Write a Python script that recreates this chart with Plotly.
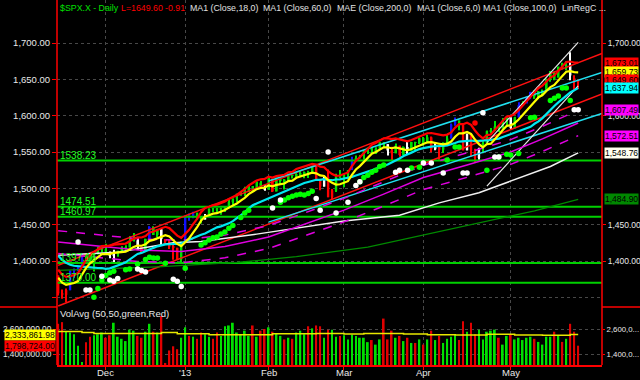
import numpy as np
import pandas as pd
import plotly.graph_objects as go

# ---------------- data ----------------
holidays = ["2012-11-22", "2012-12-25", "2013-01-01", "2013-01-21", "2013-02-18", "2013-03-29"]
first_day, last_day = "2012-11-14", "2013-05-24"

pre_closes = [1457.34, 1433.19, 1433.82, 1413.11, 1408.75, 1412.97, 1411.94, 1412.16,
              1427.59, 1414.20, 1417.26, 1428.39, 1394.53, 1377.51, 1379.85, 1380.03, 1374.53]

opens = [1380.13, 1355.41, 1353.36, 1359.88, 1386.82, 1387.79, 1391.03, 1409.15, 1406.29, 1398.77, 1409.96, 1415.95,
         1416.34, 1409.46, 1407.05, 1409.43, 1413.95, 1418.07, 1418.55, 1427.84, 1428.48, 1419.45, 1413.54, 1430.47,
         1446.79, 1435.81, 1443.67, 1430.15, 1426.66, 1419.83, 1418.10, 1402.43,
         1426.19, 1462.42, 1459.37, 1466.47, 1461.89, 1457.15, 1461.02, 1472.12, 1472.05, 1470.67, 1472.33, 1472.63,
         1480.95, 1485.98, 1492.56, 1494.81, 1494.82, 1502.96, 1500.18, 1507.84, 1501.96,
         1498.11, 1513.17, 1495.71, 1511.29, 1512.12, 1509.39, 1517.93, 1517.01, 1519.43, 1520.33, 1521.38, 1519.79,
         1530.94, 1511.95, 1502.42, 1515.60, 1487.85, 1496.94, 1515.99,
         1514.68, 1518.20, 1525.20, 1539.79, 1541.46, 1544.26, 1551.15, 1556.22, 1552.48, 1554.52, 1563.21, 1560.70,
         1552.10, 1548.34, 1558.71, 1545.90, 1556.89, 1551.69, 1563.75, 1562.86,
         1569.18, 1562.17, 1570.25, 1553.69, 1559.98, 1553.26, 1563.11, 1568.61, 1587.73, 1593.30, 1588.84, 1552.36,
         1574.57, 1552.03, 1541.61, 1555.25, 1562.50, 1578.78, 1578.93, 1585.16, 1582.34, 1593.58,
         1597.55, 1582.77, 1597.60, 1614.40, 1617.55, 1625.95, 1632.69, 1626.69, 1632.10, 1633.75, 1649.13, 1658.07,
         1652.45, 1665.71, 1666.20, 1669.39, 1651.62, 1646.67]
highs = [1380.13, 1360.62, 1362.03, 1386.89, 1389.77, 1391.25, 1409.16, 1409.15, 1409.01, 1410.31, 1419.70, 1418.86,
         1423.73, 1413.14, 1415.56, 1413.95, 1420.34, 1421.64, 1434.27, 1438.59, 1431.36, 1419.45, 1430.67, 1448.00,
         1447.75, 1443.70, 1443.67, 1430.15, 1429.42, 1422.80, 1418.10, 1426.74,
         1462.43, 1465.47, 1467.94, 1466.47, 1461.89, 1464.73, 1472.30, 1472.75, 1472.05, 1473.31, 1473.96, 1485.16,
         1485.98, 1492.56, 1496.13, 1502.27, 1503.26, 1503.23, 1509.35, 1509.94, 1504.19,
         1514.41, 1513.17, 1514.96, 1512.53, 1512.90, 1518.31, 1518.31, 1522.29, 1524.69, 1523.14, 1524.24, 1530.94,
         1530.94, 1511.95, 1515.64, 1525.84, 1498.99, 1520.08, 1525.34,
         1519.99, 1525.27, 1543.47, 1545.25, 1545.78, 1552.48, 1556.27, 1556.77, 1556.39, 1563.32, 1563.62, 1560.70,
         1557.25, 1561.56, 1558.71, 1557.74, 1564.91, 1563.95, 1564.07, 1570.28,
         1570.57, 1573.66, 1571.47, 1562.60, 1559.98, 1563.07, 1573.89, 1589.07, 1597.35, 1593.30, 1588.84, 1575.35,
         1574.57, 1554.38, 1555.89, 1565.55, 1579.58, 1583.00, 1592.64, 1585.78, 1596.65, 1597.57,
         1597.55, 1598.60, 1618.46, 1619.77, 1626.03, 1632.78, 1635.01, 1633.70, 1636.00, 1651.10, 1661.49, 1660.51,
         1667.47, 1672.84, 1674.93, 1687.18, 1655.50, 1649.78]
lows = [1352.50, 1348.05, 1343.35, 1359.88, 1377.04, 1386.39, 1391.03, 1397.68, 1398.03, 1385.43, 1409.04, 1411.63,
        1408.46, 1403.65, 1398.23, 1405.93, 1410.90, 1415.64, 1418.55, 1426.76, 1416.00, 1411.88, 1413.54, 1430.47,
        1435.80, 1432.82, 1422.58, 1424.66, 1416.43, 1401.80, 1401.58, 1398.11,
        1426.19, 1455.53, 1458.99, 1456.62, 1451.64, 1457.15, 1461.02, 1467.58, 1465.69, 1463.76, 1467.60, 1472.63,
        1475.81, 1481.16, 1489.90, 1489.46, 1494.82, 1496.33, 1498.09, 1500.11, 1496.76,
        1498.11, 1495.02, 1495.71, 1504.71, 1498.49, 1509.39, 1513.61, 1515.61, 1515.93, 1514.02, 1514.14, 1519.79,
        1511.41, 1497.29, 1502.42, 1487.85, 1485.01, 1494.88, 1514.46,
        1501.48, 1512.29, 1525.20, 1538.11, 1541.46, 1539.19, 1547.36, 1548.24, 1547.25, 1554.52, 1555.74, 1545.13,
        1538.57, 1548.34, 1543.55, 1545.90, 1546.22, 1551.69, 1551.90, 1561.08,
        1558.47, 1562.17, 1549.80, 1552.52, 1539.50, 1548.63, 1560.92, 1568.61, 1586.17, 1579.97, 1552.28, 1552.36,
        1543.69, 1536.03, 1539.40, 1548.19, 1562.50, 1575.80, 1578.93, 1577.56, 1582.34, 1586.50,
        1581.28, 1582.77, 1597.60, 1614.21, 1616.64, 1622.70, 1623.09, 1623.71, 1626.74, 1633.75, 1646.68, 1648.60,
        1652.45, 1663.52, 1662.67, 1648.86, 1635.53, 1636.88]
closes = [1355.49, 1353.33, 1359.88, 1386.89, 1387.81, 1391.03, 1409.15, 1406.29, 1398.94, 1409.93, 1415.95, 1416.18,
          1409.46, 1407.05, 1409.28, 1413.94, 1418.07, 1418.55, 1427.84, 1428.48, 1419.45, 1413.58, 1430.36, 1446.79,
          1435.81, 1443.69, 1430.15, 1426.66, 1419.83, 1418.10, 1402.43, 1426.19,
          1462.42, 1459.37, 1466.47, 1461.89, 1457.15, 1461.02, 1472.12, 1472.05, 1470.68, 1472.34, 1472.63, 1480.94,
          1485.98, 1492.56, 1494.81, 1494.82, 1502.96, 1500.18, 1507.84, 1501.96, 1498.11,
          1513.17, 1495.71, 1511.29, 1512.12, 1509.39, 1517.93, 1517.01, 1519.43, 1520.33, 1521.38, 1519.79, 1530.94,
          1511.95, 1502.42, 1515.60, 1487.85, 1496.94, 1515.99, 1514.68,
          1518.20, 1525.20, 1539.79, 1541.46, 1544.26, 1551.18, 1556.22, 1552.48, 1554.52, 1563.23, 1560.70, 1552.10,
          1548.34, 1558.71, 1545.80, 1556.89, 1551.69, 1563.77, 1562.85, 1569.19,
          1562.17, 1570.25, 1553.69, 1559.98, 1553.28, 1563.07, 1568.61, 1587.73, 1593.37, 1588.85, 1552.36, 1574.57,
          1552.01, 1541.61, 1555.25, 1562.50, 1578.78, 1578.79, 1585.16, 1582.24, 1593.61, 1597.57,
          1582.70, 1597.59, 1614.42, 1617.50, 1625.96, 1632.69, 1626.67, 1633.70, 1633.77, 1650.34, 1658.78, 1650.47,
          1667.47, 1666.29, 1669.16, 1655.35, 1650.51, 1649.60]
volumes_m = [2.85, 2.93, 2.47, 2.43, 2.35, 1.80, 1.02, 1.97, 2.23, 2.30, 2.35, 2.43,
             2.18, 2.30, 2.90, 2.23, 2.13, 2.02, 2.57, 2.52, 2.27, 2.18, 2.47, 2.85, 2.47, 2.43, 3.23, 0.97, 1.57,
             1.77, 1.63, 2.18,
             2.68, 2.27, 2.23, 2.13, 2.43, 2.35, 2.23, 2.13, 2.43, 2.27, 2.73, 2.77, 2.90, 2.43, 2.35, 2.52, 2.27,
             2.77, 2.23, 2.52, 2.60,
             2.68, 2.47, 2.40, 2.27, 2.10, 2.18, 2.13, 2.43, 2.52, 2.35, 2.73, 2.63, 2.77, 2.73, 2.18, 2.57, 2.57,
             2.23, 2.27,
             2.30, 2.10, 2.32, 2.27, 2.18, 2.18, 1.97, 2.07, 1.85, 2.10, 3.10, 2.10, 2.52, 2.18, 2.27, 2.02, 2.18,
             1.93, 1.93, 2.10,
             1.85, 2.10, 2.52, 2.07, 2.27, 1.93, 2.13, 2.23, 2.30, 2.07, 2.97, 2.47, 2.90, 2.35, 2.57, 2.10, 2.47,
             2.52, 2.57, 2.18, 1.85, 2.27,
             2.35, 2.10, 2.18, 2.07, 2.18, 2.23, 2.13, 1.98, 1.85, 2.23, 2.23, 2.47, 2.30, 1.98, 2.13, 2.85, 2.47,
             1.798724]

# 50-day volume average (millions), step line
vol_avg_idx = [0, 6, 9, 26, 30, 38, 54, 65, 72, 77, 87, 93, 100, 108, 115, 122, 129, 131]
vol_avg_val = [2.48, 2.43, 2.39, 2.43, 2.37, 2.32, 2.37, 2.38, 2.36, 2.38, 2.36, 2.33, 2.31, 2.35, 2.31, 2.30,
               2.33386198, 2.33386198]

# longer moving averages
ma60_idx = [0, 10, 20, 31, 42, 53, 62, 72, 82, 92, 103, 114, 122, 131]
ma60_val = [1426, 1420, 1415, 1413, 1420, 1433, 1450, 1470, 1492, 1515, 1532, 1550, 1568, 1590]
ma100_idx = [0, 15, 29, 36, 50, 64, 72, 86, 96, 106, 115, 124, 131]
ma100_val = [1408, 1412, 1425, 1427, 1437, 1448, 1455, 1463, 1480, 1494, 1512, 1530, 1548.76]
ma200_idx = [0, 25, 45, 60, 78, 92, 106, 120, 131]
ma200_val = [1387, 1392, 1398, 1406, 1419, 1436, 1452, 1469, 1484.90]

green_dot_idx = [9, 10, 11, 12, 13, 14, 17, 18, 20, 22, 23, 24, 25, 27, 32,
                 36, 37, 38, 39, 40, 41, 42, 43, 44, 46, 47, 48,
                 56, 57, 58, 59, 60, 61, 62, 63, 64,
                 76, 77, 78, 79, 80, 81, 82, 89, 91, 98, 100, 101,
                 108, 111, 113, 114, 116, 119, 120, 124, 125, 126, 127, 128, 129]
green_dot_val = [1350, 1362, 1374, 1380, 1384, 1386, 1388, 1389, 1396, 1402, 1405, 1404, 1404, 1397, 1390,
                 1422, 1425, 1429, 1432, 1433, 1437, 1440, 1445, 1449, 1460, 1466, 1470,
                 1481, 1484, 1487, 1489, 1491, 1492, 1491, 1493, 1496,
                 1509, 1515, 1518, 1522, 1525, 1530, 1532, 1528, 1529, 1539, 1557, 1557,
                 1525, 1543, 1547, 1546, 1548, 1597, 1598, 1621, 1624, 1627, 1638, 1638, 1621]
white_dot_idx = [5, 7, 8, 11, 13, 14, 15, 20, 21, 22, 29, 30, 31, 54, 56, 65, 66, 68, 70, 73, 75, 76,
                 85, 86, 88, 92, 94, 97, 102, 103, 107, 110, 111, 130, 131]
white_dot_val = [1426, 1360, 1360, 1379, 1374, 1372, 1376, 1389, 1387, 1385, 1375, 1372, 1365, 1473, 1484,
                 1486, 1470, 1550, 1466, 1481, 1504, 1509, 1522, 1525, 1525, 1535, 1535, 1521, 1521, 1521,
                 1604, 1543, 1543, 1608, 1608]
red_dot_idx = [105]
red_dot_val = [1590]

levels = [1538.23, 1474.51, 1460.97, 1397.16, 1370.00]

# linear regression channels: start index, upper, lower at start, slope per bar
red_channel = (0, 1394.0, 1338.0, 2.13)
cyan_channel = (53, 1510.0, 1453.5, 1.78)
white_channel = (108, 1563.0, 1503.0, 6.0)

band_pct = 0.8      # red band above MA6
envelope_pct = 1.1  # MAE envelope around MA60

# ---------------- derived ----------------
dates = pd.bdate_range(first_day, last_day)
dates = dates[~dates.isin(pd.to_datetime(holidays))]
n = len(closes)
assert len(dates) == n
x = np.arange(n)
o, h, l, c = map(np.array, (opens, highs, lows, closes))

allc = pd.Series(pre_closes + closes)
ma6 = allc.rolling(6).mean().to_numpy()[len(pre_closes):]
ma18 = allc.rolling(18).mean().to_numpy()[len(pre_closes):]
band = ma6 * (1 + band_pct / 100)
env_up = np.array(ma60_val) * (1 + envelope_pct / 100)
env_dn = np.array(ma60_val) * (1 - envelope_pct / 100)

prev_c = np.array([pre_closes[-1]] + closes[:-1])
dev = (c - ma6) / ma6
cat = np.where(dev > 0.012, "blue", np.where(dev > 0.0, "green", np.where(dev < -0.004, "red", "white")))
candle_col = {"blue": "#1010ff", "green": "#00e000", "red": "#ff0000", "white": "#ffffff"}

vol = np.array(volumes_m) * 1e6
vol_col = np.where(c >= prev_c, "#00e000", "#e00000")

# month ticks
month_idx, month_txt = [], []
for i in range(1, n):
    if dates[i].month != dates[i - 1].month:
        month_idx.append(i)
        month_txt.append("'" + dates[i].strftime("%y") if dates[i].month == 1 else dates[i].strftime("%b"))

# ---------------- geometry ----------------
W, H = 640, 380
ML, MR, MT, MB = 57, 38, 0, 15
PW, PH = W - ML - MR, H - MT - MB
def pyy(yp):
    return (H - MB - yp) / PH
def pxx(xp):
    return (xp - ML) / PW

XR = [-0.3, 137.0]
PRICE_RANGE = [1336.7, 1759.2]
VOL_RANGE = [0.872e6, 3.656e6]
split = pyy(307)

FONT = "Liberation Sans, Arial, sans-serif"
fig = go.Figure()

# candles
for k in ["white", "green", "red", "blue"]:
    m = cat == k
    if not m.any():
        continue
    fig.add_trace(go.Bar(x=x[m], base=l[m], y=(h - l)[m], width=0.28, marker_color=candle_col[k],
                         marker_line_width=0, hoverinfo="skip", showlegend=False))
    body_lo = np.minimum(o, c)[m]
    body_h = np.maximum(np.abs(c - o)[m], 0.9)
    fig.add_trace(go.Bar(x=x[m], base=body_lo, y=body_h, width=0.6, marker_color=candle_col[k],
                         marker_line_width=0, hoverinfo="skip", showlegend=False))

def line(xv, yv, color, width, dash="solid", shape="linear", yaxis="y"):
    fig.add_trace(go.Scatter(x=xv, y=yv, mode="lines", yaxis=yaxis,
                             line=dict(color=color, width=width, dash=dash, shape=shape),
                             hoverinfo="skip", showlegend=False))

# horizontal support / resistance levels
for lv in levels:
    line([XR[0], XR[1]], [lv, lv], "#00d000", 2)

# regression channels
for (s, up0, dn0, sl), col, w, xend in [(red_channel, "#ff1010", 1.5, XR[1]),
                                        (cyan_channel, "#20e0f0", 1.5, XR[1]),
                                        (white_channel, "#e8e8e8", 1.2, n - 1)]:
    xs = [s, xend]
    line(xs, [up0, up0 + sl * (xend - s)], col, w)
    line(xs, [dn0, dn0 + sl * (xend - s)], col, w)

line(ma200_idx, ma200_val, "#008a00", 1.2)
line(ma100_idx, ma100_val, "#f0f0f0", 1.5)
line(ma60_idx, ma60_val, "#e000e0", 1.5)
line(ma60_idx, env_up, "#e000e0", 1.5, dash="dash")
line(ma60_idx, env_dn, "#e000e0", 1.5, dash="dash")
line(x, ma18, "#00e8f0", 2.2)
line(x, ma6, "#ffff00", 2.2)
line(x, band, "#ff0000", 2.2)

fig.add_trace(go.Scatter(x=green_dot_idx, y=green_dot_val, mode="markers",
                         marker=dict(color="#00ff00", size=5.5), hoverinfo="skip", showlegend=False))
fig.add_trace(go.Scatter(x=white_dot_idx, y=white_dot_val, mode="markers",
                         marker=dict(color="#ffffff", size=5.5), hoverinfo="skip", showlegend=False))
fig.add_trace(go.Scatter(x=red_dot_idx, y=red_dot_val, mode="markers",
                         marker=dict(color="#ff0000", size=5.5), hoverinfo="skip", showlegend=False))

# volume
fig.add_trace(go.Bar(x=x, y=vol, width=0.45, marker_color=vol_col, marker_line_width=0,
                     yaxis="y3", hoverinfo="skip", showlegend=False))
va_x = list(vol_avg_idx)
va_y = list(np.array(vol_avg_val) * 1e6)
line(va_x, va_y, "#e8e800", 1.5, shape="hv", yaxis="y3")

# dummy traces for right axes
fig.add_trace(go.Scatter(x=[0], y=[1500], yaxis="y2", mode="markers", marker_opacity=0,
                         hoverinfo="skip", showlegend=False))
fig.add_trace(go.Scatter(x=[0], y=[2e6], yaxis="y4", mode="markers", marker_opacity=0,
                         hoverinfo="skip", showlegend=False))

tickfont = dict(family=FONT, size=9.5, color="#e8e8e8")
rtickfont = dict(family=FONT, size=8.5, color="#e8e8e8")
voltickfont = dict(family=FONT, size=8.3, color="#e8e8e8")
rvoltickfont = dict(family=FONT, size=7.8, color="#e8e8e8")
grid = dict(showgrid=True, gridcolor="#484848", griddash="dot", gridwidth=1)

price_ticks = [1350, 1400, 1450, 1500, 1550, 1600, 1650, 1700]
price_text = ["" if v == 1350 else f"{v:,.2f}" for v in price_ticks]
right_ticks = [1400, 1450, 1600, 1700]
vol_ticks = [1.4e6, 2.6e6]

fig.update_layout(
    width=W, height=H, margin=dict(l=ML, r=MR, t=MT, b=MB, autoexpand=False),
    paper_bgcolor="black", plot_bgcolor="black", barmode="overlay",
    hovermode=False, showlegend=False,
    xaxis=dict(range=XR, anchor="y3", tickvals=month_idx, showticklabels=False, ticks="outside",
               ticklen=3, tickcolor="#ff0000", showline=True, linecolor="#ff0000",
               linewidth=1.5, zeroline=False, automargin=False, **grid),
    yaxis=dict(domain=[split, 1], range=PRICE_RANGE, tickvals=price_ticks, ticktext=price_text,
               ticks="outside", ticklen=4, tickcolor="#ff0000", tickfont=tickfont, zeroline=False,
               showline=False, automargin=False, **grid),
    yaxis2=dict(overlaying="y", side="right", range=PRICE_RANGE, tickvals=right_ticks,
                ticktext=[f"{v:,.2f}" for v in right_ticks], ticks="outside", ticklen=3,
                tickcolor="#ff0000", tickfont=rtickfont, showgrid=False, zeroline=False, automargin=False),
    yaxis3=dict(domain=[0, split], range=VOL_RANGE, tickvals=vol_ticks,
                ticktext=[f"{v:,.2f}" for v in vol_ticks], ticks="outside", ticklen=3,
                tickcolor="#ff0000", tickfont=voltickfont, zeroline=False, automargin=False, **grid),
    yaxis4=dict(overlaying="y3", side="right", range=VOL_RANGE, tickvals=vol_ticks,
                ticktext=[f"{v:,.0f}"[:7] + "..." for v in vol_ticks], ticks="outside", ticklen=2,
                tickcolor="#ff0000", tickfont=rvoltickfont, showgrid=False, zeroline=False, automargin=False),
)

# frame lines
red = "#ff0000"
shapes = [
    dict(type="line", xref="paper", yref="paper", x0=0, x1=0, y0=0, y1=1, line=dict(color=red, width=1.5)),
    dict(type="line", xref="paper", yref="paper", x0=1, x1=1, y0=0, y1=1, line=dict(color=red, width=1.5)),
    dict(type="line", xref="paper", yref="paper", x0=pxx(0), x1=0, y0=split, y1=split,
         line=dict(color=red, width=1.5)),
    dict(type="line", xref="paper", yref="paper", x0=1, x1=pxx(W), y0=split, y1=split,
         line=dict(color=red, width=1.5)),
]
fig.update_layout(shapes=shapes)

ann = []
# month labels on the time axis
for mi, mt in zip(month_idx, month_txt):
    ann.append(dict(xref="x", yref="paper", x=mi, y=pyy(372.5), text=mt, showarrow=False,
                    xanchor="center", yanchor="middle", font=dict(family=FONT, size=9.5, color="#e8e8e8")))
# header
chg = closes[-1] - closes[-2]
header = [(58, "$SPX.X - Daily", "#00e000"), (119, f"L={closes[-1]:.2f}", "#ff0000"),
          (163, f"{chg:.2f}", "#ff0000"), (188, "MA1 (Close,18,0)", "#e0e0e0"),
          (261, "MA1 (Close,60,0)", "#e0e0e0"), (335, "MAE (Close,200,0)", "#e0e0e0"),
          (415, "MA1 (Close,6,0)", "#e0e0e0"), (481, "MA1 (Close,100,0)", "#e0e0e0"),
          (560, "LinRegC ...", "#e0e0e0")]
for xp, t, col in header:
    ann.append(dict(xref="paper", yref="paper", x=pxx(xp), y=pyy(8), text=t, showarrow=False,
                    xanchor="left", yanchor="middle", font=dict(family=FONT, size=8.8, color=col)))
ann.append(dict(xref="paper", yref="paper", x=pxx(58), y=pyy(313), text="VolAvg (50,50,green,Red)",
                showarrow=False, xanchor="left", yanchor="middle",
                font=dict(family=FONT, size=9.5, color="#e8e8e8")))
# level labels
for lv in levels:
    ann.append(dict(xref="paper", yref="y", x=pxx(58), y=lv, text=f"{lv:.2f}", showarrow=False,
                    xanchor="left", yanchor="bottom", yshift=-2,
                    font=dict(family=FONT, size=10, color="#20ff20")))
# right value boxes
boxes = [(band[-1], "#ff0000"), (ma6[-1], "#ffff00"), (closes[-1], "#ff0000"), (ma18[-1], "#00ffff"),
         (env_up[-1], "#ff00ff"), (env_dn[-1], "#ff00ff"), (ma100_val[-1], "#fffff0"),
         (ma200_val[-1], "#008800")]
for v, col in boxes:
    ann.append(dict(xref="paper", yref="y", x=1, y=v, xshift=2, text=f"{v:,.2f}", showarrow=False,
                    xanchor="left", yanchor="middle", bgcolor=col, borderpad=0,
                    font=dict(family=FONT, size=8.5, color="#000000")))
# left volume boxes
for v, col in [(va_y[-1], "#ffff00"), (vol[-1], "#ff0000")]:
    ann.append(dict(xref="paper", yref="y3", x=0, y=v, xshift=-1, text=f"{v:,.2f}", showarrow=False,
                    xanchor="right", yanchor="middle", bgcolor=col, borderpad=0,
                    font=dict(family=FONT, size=8.5, color="#000000")))
fig.update_layout(annotations=ann)

fig.write_html("out.html")
